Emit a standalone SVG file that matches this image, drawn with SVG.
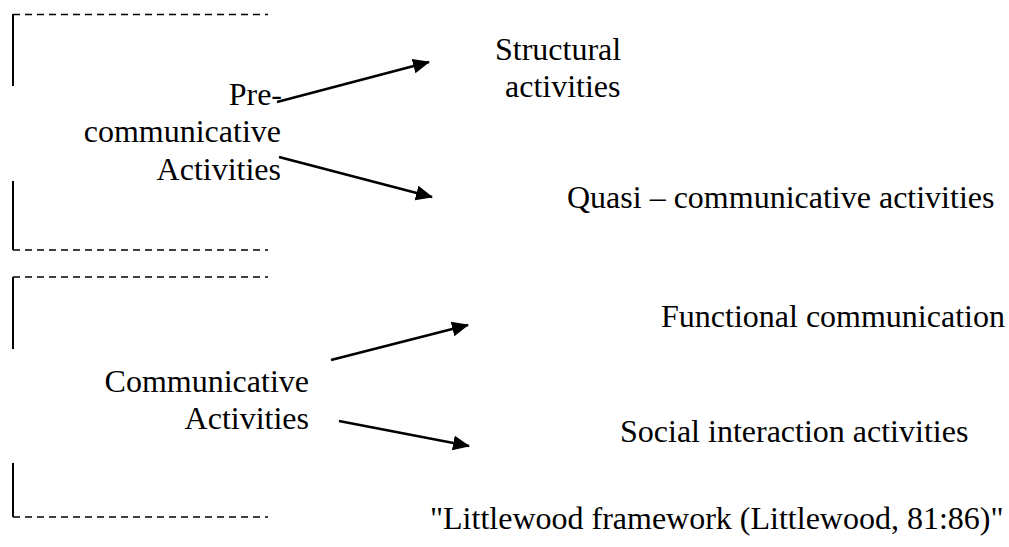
<svg xmlns="http://www.w3.org/2000/svg" width="1009" height="547" viewBox="0 0 1009 547">
<style>
text{font-family:"Liberation Serif","Times New Roman","DejaVu Serif",serif;font-size:32px;fill:#000}
.r{text-anchor:end}
.dash{stroke:#000;stroke-width:1.6;stroke-dasharray:7 5;fill:none}
.solid{stroke:#000;stroke-width:2;fill:none}
.arr{stroke:#000;stroke-width:2.6;fill:none;marker-end:url(#ah)}
</style>
<defs>
<marker id="ah" markerUnits="userSpaceOnUse" markerWidth="20" markerHeight="16" refX="16" refY="7.5" orient="auto">
<path d="M0,0 L17,7.5 L0,15 Z" fill="#000"/>
</marker>
</defs>
<rect width="1009" height="547" fill="#fff"/>
<g font-family="Liberation Serif, Times New Roman, serif">
<g id="box-pre">
<path class="dash" d="M13,14.5 H268 M13,250 H268"/>
<path class="solid" d="M13,14 V86 M13,181 V250"/>
<text class="r" x="282" y="105">Pre-</text>
<text class="r" x="281" y="142">communicative</text>
<text class="r" x="281" y="180">Activities</text>
</g>
<g id="box-comm">
<path class="dash" d="M13,277 H268 M13,517 H268"/>
<path class="solid" d="M13,277 V349 M13,463 V517"/>
<text class="r" x="309" y="392">Communicative</text>
<text class="r" x="309" y="429">Activities</text>
</g>
<g id="structural">
<text x="495" y="60">Structural</text>
<text x="505" y="97">activities</text>
</g>
<g id="quasi"><text x="567" y="208">Quasi – communicative activities</text></g>
<g id="functional"><text x="661" y="327">Functional communication</text></g>
<g id="social"><text x="620" y="442">Social interaction activities</text></g>
<g id="caption"><text x="430" y="529">"Littlewood framework (Littlewood, 81:86)"</text></g>
</g>
<g id="connectors">
<line class="arr" x1="277" y1="102" x2="429" y2="62"/>
<line class="arr" x1="279" y1="157" x2="432" y2="197"/>
<line class="arr" x1="331" y1="360" x2="468" y2="325"/>
<line class="arr" x1="339" y1="421" x2="469" y2="446"/>
</g>
</svg>
